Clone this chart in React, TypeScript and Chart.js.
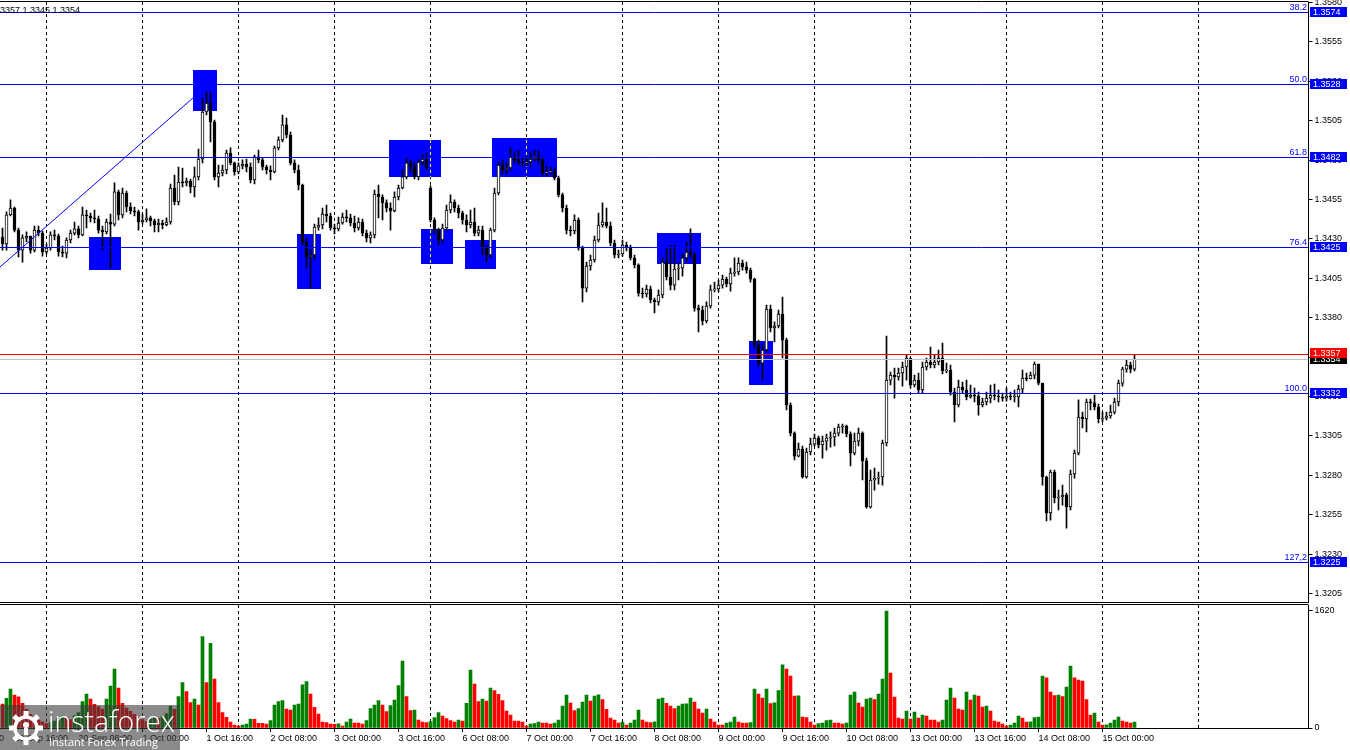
import React, { useEffect, useRef } from 'react';
import { Chart, registerables } from 'chart.js';
Chart.register(...registerables);

// ---------- DATA ----------
const TOTAL_SLOTS = 327;
const firstOpen = 1.34312;
const weekGapBar = 107;
const weekGapOpen = 1.34623;
const prevVolume = 360;

const closes = [
1.34268,1.34452,1.34496,1.34356,1.34229,1.34306,1.34318,1.34229,1.34356,1.34337,
1.34217,1.34242,1.34325,1.34318,1.34217,1.34210,1.34293,1.34337,1.34363,1.34325,
1.34452,1.34445,1.34433,1.34426,1.34356,1.34344,1.34407,1.34394,1.34598,1.34452,
1.34591,1.34502,1.34477,1.34471,1.34407,1.34420,1.34433,1.34414,1.34388,1.34401,
1.34388,1.34407,1.34623,1.34534,1.34661,1.34655,1.34667,1.34629,1.34693,1.34807,
1.35105,1.35162,1.35042,1.34693,1.34718,1.34737,1.34845,1.34782,1.34725,1.34763,
1.34775,1.34756,1.34674,1.34820,1.34801,1.34756,1.34737,1.34725,1.34877,1.34928,
1.35023,1.34959,1.34782,1.34737,1.34642,1.34280,1.34185,1.34198,1.34375,1.34388,
1.34458,1.34445,1.34369,1.34363,1.34401,1.34439,1.34433,1.34401,1.34369,1.34407,
1.34337,1.34306,1.34325,1.34585,1.34566,1.34528,1.34496,1.34477,1.34566,1.34623,
1.34693,1.34782,1.34756,1.34693,1.34788,1.34807,1.34750,1.34420,1.34356,1.34293,
1.34369,1.34483,1.34534,1.34496,1.34464,1.34420,1.34388,1.34407,1.34337,1.34356,
1.34249,1.34198,1.34356,1.34591,1.34769,1.34737,1.34750,1.34820,1.34801,1.34788,
1.34782,1.34788,1.34807,1.34826,1.34801,1.34718,1.34725,1.34725,1.34686,1.34579,
1.34496,1.34356,1.34350,1.34420,1.34242,1.33988,1.34128,1.34166,1.34293,1.34388,
1.34407,1.34382,1.34274,1.34198,1.34204,1.34261,1.34242,1.34179,1.34134,1.33956,
1.33950,1.33982,1.33912,1.33900,1.33944,1.34153,1.34058,1.34007,1.34109,1.34115,
1.34179,1.34217,1.34198,1.33861,1.33849,1.33779,1.33874,1.33976,1.33982,1.34007,
1.34045,1.34014,1.34083,1.34090,1.34147,1.34122,1.34102,1.34045,1.33627,1.33512,
1.33595,1.33855,1.33735,1.33747,1.33823,1.33658,1.33246,1.33068,1.32922,1.32967,
1.32789,1.32948,1.32998,1.33036,1.32992,1.33017,1.33036,1.33043,1.33068,1.33106,
1.33113,1.33062,1.32941,1.33017,1.33068,1.32891,1.32599,1.32770,1.32782,1.32789,
1.33005,1.33404,1.33436,1.33424,1.33449,1.33487,1.33544,1.33373,1.33404,1.33341,
1.33487,1.33519,1.33500,1.33519,1.33544,1.33462,1.33468,1.33328,1.33246,1.33360,
1.33341,1.33297,1.33309,1.33303,1.33246,1.33265,1.33290,1.33309,1.33303,1.33297,
1.33290,1.33303,1.33297,1.33297,1.33347,1.33417,1.33411,1.33436,1.33506,1.33385,
1.32789,1.32561,1.32821,1.32656,1.32662,1.32675,1.32599,1.32808,1.32941,1.33170,
1.33157,1.33265,1.33259,1.33233,1.33157,1.33163,1.33176,1.33201,1.33265,1.33385,
1.33474,1.33500,1.33474,1.33538
];

const highs = [
1.34369,1.34471,1.34547,1.34502,1.34369,1.34325,1.34344,1.34318,1.34382,1.34382,
1.34350,1.34268,1.34344,1.34356,1.34331,1.34255,1.34306,1.34356,1.34407,1.34382,
1.34502,1.34483,1.34464,1.34483,1.34445,1.34382,1.34426,1.34458,1.34655,1.34610,
1.34623,1.34604,1.34528,1.34502,1.34483,1.34458,1.34490,1.34445,1.34426,1.34426,
1.34420,1.34433,1.34648,1.34705,1.34756,1.34750,1.34686,1.34680,1.34756,1.34870,
1.35194,1.35232,1.35226,1.35054,1.34769,1.34769,1.34864,1.34877,1.34788,1.34782,
1.34801,1.34807,1.34782,1.34832,1.34864,1.34813,1.34769,1.34763,1.34889,1.34947,
1.35086,1.35067,1.34978,1.34801,1.34769,1.34648,1.34306,1.34229,1.34394,1.34433,
1.34496,1.34515,1.34464,1.34394,1.34439,1.34464,1.34483,1.34458,1.34445,1.34433,
1.34426,1.34356,1.34344,1.34610,1.34642,1.34579,1.34547,1.34528,1.34598,1.34642,
1.34737,1.34813,1.34801,1.34782,1.34801,1.34832,1.34845,1.34636,1.34433,1.34369,
1.34394,1.34515,1.34579,1.34547,1.34515,1.34477,1.34452,1.34483,1.34496,1.34382,
1.34382,1.34261,1.34369,1.34623,1.34788,1.34801,1.34782,1.34877,1.34851,1.34864,
1.34813,1.34826,1.34851,1.34864,1.34858,1.34820,1.34763,1.34756,1.34750,1.34699,
1.34591,1.34515,1.34382,1.34452,1.34433,1.34255,1.34153,1.34198,1.34318,1.34464,
1.34528,1.34496,1.34407,1.34293,1.34229,1.34293,1.34280,1.34261,1.34198,1.34141,
1.33988,1.34007,1.34001,1.33925,1.33976,1.34179,1.34242,1.34261,1.34261,1.34147,
1.34204,1.34280,1.34363,1.34217,1.33880,1.33874,1.33900,1.34007,1.34026,1.34039,
1.34071,1.34058,1.34115,1.34179,1.34179,1.34166,1.34153,1.34115,1.34052,1.33658,
1.33627,1.33880,1.33880,1.33773,1.33849,1.33931,1.33671,1.33259,1.33075,1.33005,
1.32986,1.32973,1.33036,1.33062,1.33049,1.33049,1.33062,1.33075,1.33100,1.33125,
1.33125,1.33119,1.33075,1.33068,1.33100,1.33075,1.32909,1.32833,1.32846,1.32821,
1.33024,1.33684,1.33455,1.33481,1.33481,1.33519,1.33563,1.33544,1.33436,1.33449,
1.33519,1.33544,1.33614,1.33563,1.33595,1.33639,1.33512,1.33500,1.33354,1.33404,
1.33392,1.33404,1.33373,1.33354,1.33328,1.33290,1.33328,1.33373,1.33379,1.33341,
1.33322,1.33354,1.33328,1.33341,1.33373,1.33468,1.33449,1.33455,1.33519,1.33506,
1.33385,1.32795,1.32833,1.32833,1.32706,1.32738,1.32687,1.32833,1.32960,1.33278,
1.33201,1.33284,1.33284,1.33309,1.33252,1.33201,1.33201,1.33246,1.33290,1.33404,
1.33487,1.33531,1.33519,1.33563
];

const lows = [
1.34229,1.34229,1.34445,1.34344,1.34185,1.34153,1.34280,1.34210,1.34217,1.34318,
1.34191,1.34204,1.34229,1.34293,1.34191,1.34185,1.34179,1.34274,1.34325,1.34306,
1.34318,1.34369,1.34407,1.34401,1.34337,1.34229,1.34331,1.34115,1.34382,1.34420,
1.34433,1.34471,1.34458,1.34445,1.34356,1.34394,1.34407,1.34382,1.34344,1.34344,
1.34363,1.34382,1.34394,1.34515,1.34515,1.34629,1.34636,1.34591,1.34566,1.34674,
1.34782,1.35086,1.34915,1.34674,1.34629,1.34699,1.34712,1.34769,1.34705,1.34712,
1.34744,1.34725,1.34655,1.34648,1.34782,1.34737,1.34712,1.34674,1.34718,1.34864,
1.34915,1.34940,1.34769,1.34718,1.34610,1.34261,1.34115,1.33988,1.34172,1.34356,
1.34363,1.34407,1.34356,1.34331,1.34350,1.34394,1.34407,1.34382,1.34344,1.34356,
1.34318,1.34280,1.34274,1.34306,1.34433,1.34420,1.34471,1.34356,1.34471,1.34547,
1.34617,1.34680,1.34725,1.34680,1.34674,1.34769,1.34737,1.34407,1.34337,1.34261,
1.34274,1.34356,1.34464,1.34471,1.34433,1.34394,1.34344,1.34369,1.34318,1.34318,
1.34198,1.34153,1.34179,1.34344,1.34579,1.34712,1.34712,1.34731,1.34782,1.34769,
1.34763,1.34763,1.34756,1.34794,1.34782,1.34705,1.34699,1.34712,1.34674,1.34566,
1.34471,1.34331,1.34318,1.34331,1.34229,1.33900,1.33963,1.34102,1.34153,1.34280,
1.34375,1.34369,1.34255,1.34179,1.34179,1.34191,1.34223,1.34166,1.34115,1.33937,
1.33925,1.33931,1.33893,1.33830,1.33880,1.33925,1.34039,1.33976,1.33976,1.34039,
1.34064,1.34153,1.34179,1.33842,1.33709,1.33754,1.33766,1.33861,1.33963,1.33963,
1.33988,1.33995,1.33969,1.34064,1.34071,1.34102,1.34083,1.34026,1.33608,1.33493,
1.33404,1.33582,1.33709,1.33646,1.33735,1.33544,1.33214,1.33049,1.32897,1.32916,
1.32782,1.32782,1.32929,1.32986,1.32973,1.32909,1.32960,1.32979,1.32986,1.33049,
1.33068,1.33043,1.32859,1.32929,1.32986,1.32770,1.32592,1.32592,1.32706,1.32744,
1.32738,1.32986,1.33373,1.33290,1.33404,1.33366,1.33404,1.33354,1.33360,1.33322,
1.33322,1.33468,1.33481,1.33481,1.33500,1.33443,1.33449,1.33309,1.33138,1.33233,
1.33322,1.33278,1.33290,1.33265,1.33182,1.33233,1.33246,1.33259,1.33278,1.33265,
1.33271,1.33271,1.33278,1.33265,1.33233,1.33322,1.33398,1.33411,1.33411,1.33373,
1.32738,1.32510,1.32516,1.32624,1.32580,1.32611,1.32465,1.32580,1.32782,1.32929,
1.33100,1.33075,1.33214,1.33214,1.33132,1.33138,1.33151,1.33163,1.33189,1.33240,
1.33366,1.33455,1.33449,1.33462
];

const volumes = [
330,410,540,457,430,340,260,190,150,110,
85,60,75,95,130,165,140,115,170,215,
365,471,402,328,295,263,402,582,817,554,
342,277,230,190,150,115,90,120,150,135,
160,200,300,260,434,628,503,351,402,319,
1265,628,1173,679,351,212,148,83,42,25,
42,55,125,120,65,63,55,102,319,365,
379,263,249,319,332,596,642,471,286,194,
83,74,55,50,58,28,83,125,69,67,
55,102,268,319,379,318,226,309,388,586,
928,434,240,249,111,83,74,88,143,212,
166,129,102,83,111,97,342,803,609,365,
402,374,554,517,466,379,235,180,97,95,
83,28,55,60,83,69,67,55,69,111,
305,457,346,240,268,360,457,374,443,460,
392,259,138,111,69,83,42,69,111,249,
111,83,74,85,402,415,342,305,268,305,
332,333,415,360,263,208,263,125,83,42,
40,69,83,152,83,69,67,75,540,471,
415,540,337,350,517,873,817,720,443,445,
152,143,83,42,60,69,102,111,69,67,
55,69,457,499,346,291,402,415,392,471,
679,1620,762,429,138,125,235,125,222,138,
180,166,111,108,83,111,388,554,415,263,
249,499,388,457,443,291,305,235,97,83,
55,28,42,69,166,138,83,85,143,152,
720,693,499,448,457,434,568,859,693,665,
651,392,180,208,83,42,45,69,111,152,
97,83,69,83
];

const priceTicks = [1.3205,1.3230,1.3255,1.3280,1.3305,1.3330,1.3355,1.3380,1.3405,1.3430,1.3455,1.3480,1.3505,1.3530,1.3555,1.3580];
const PRICE_MIN = 1.31996;
const PRICE_MAX = 1.35803;
const VOL_MAX = 1703;
const volumeTicks = [0, 1620];

const xTickBars = [-13,3,19,35,51,67,83,99,115,131,147,163,179,195,211,227,243,259,275];
const xTickLabels = ['29 Sep 00:00','29 Sep 16:00','30 Sep 08:00','1 Oct 00:00','1 Oct 16:00','2 Oct 08:00','3 Oct 00:00','3 Oct 16:00','6 Oct 08:00','7 Oct 00:00','7 Oct 16:00','8 Oct 08:00','9 Oct 00:00','9 Oct 16:00','10 Oct 08:00','13 Oct 00:00','13 Oct 16:00','14 Oct 08:00','15 Oct 00:00'];
const dayStartBars = [11,35,59,83,107,131,155,179,203,227,251,275,299];

const fibLevels = [1.3574,1.3528,1.3482,1.3425,1.3332,1.3225];
const fibNames = ['38.2','50.0','61.8','76.4','100.0','127,2'];
const askPrice = 1.3357;
const bidPrice = 1.3354;

const boxStart = [22,48,74,97,105,116,123,164,187];
const boxEnd = [29,53,79,109,112,123,138,174,192];
const boxHigh = [1.3431,1.3537,1.3433,1.3493,1.3436,1.3429,1.3494,1.3434,1.3365];
const boxLow = [1.3410,1.3511,1.3398,1.3469,1.3414,1.3411,1.3469,1.3414,1.3337];

const trendBars = [-10, 49];
const trendPrices = [1.33913, 1.35225];

const headerText = '1.3357 1.3345 1.3354';

// ---------- STYLE ----------
const FONT = '"Liberation Sans", Arial, sans-serif';
const FONT_SIZE = 9;
const BLUE = '#0000FF';
const AXIS_W = 41.5;

// ---------- derived tables ----------
const slotLabels = Array.from({ length: TOTAL_SLOTS }, (_, i) => String(i));
const opens = closes.map((c, i) => (i === 0 ? firstOpen : i === weekGapBar ? weekGapOpen : closes[i - 1]));
const bodyData = closes.map((c, i) => [opens[i], c]);
const wickData = closes.map((c, i) => [Math.min(lows[i], opens[i], c), Math.max(highs[i], opens[i], c)]);
const bodyColors = closes.map((c, i) => (c >= opens[i] ? '#FFFFFF' : '#000000'));
const volColors = volumes.map((v, i) => (v > (i === 0 ? prevVolume : volumes[i - 1]) ? '#008000' : '#FF0000'));
const xLabelMap: Record<string, string> = {};
xTickBars.forEach((b, k) => { xLabelMap[String(b)] = xTickLabels[k]; });

const whiteBg = {
  id: 'whiteBg',
  beforeDraw(chart: any) {
    const { ctx, width, height } = chart;
    ctx.save();
    ctx.fillStyle = '#FFFFFF';
    ctx.fillRect(0, 0, width, height);
    ctx.restore();
  },
};

function drawDayGrid(chart: any) {
  const { ctx, chartArea, scales } = chart;
  const xs = scales.x;
  ctx.save();
  ctx.beginPath();
  ctx.rect(chartArea.left, chartArea.top, chartArea.right - chartArea.left, chartArea.bottom - chartArea.top);
  ctx.clip();
  ctx.globalCompositeOperation = 'difference';
  ctx.strokeStyle = '#FFFFFF';
  ctx.lineWidth = 1;
  ctx.setLineDash([3, 3]);
  for (const b of dayStartBars) {
    const x = Math.floor(xs.getPixelForValue(b)) + 0.5;
    ctx.beginPath();
    ctx.moveTo(x, chartArea.top);
    ctx.lineTo(x, chartArea.bottom);
    ctx.stroke();
  }
  ctx.restore();
}

function valueBox(ctx: any, y: number, text: string, bg: string) {
  const yc = Math.round(y);
  ctx.fillStyle = bg;
  ctx.fillRect(1310, yc - 5, 37, 10);
  ctx.fillStyle = '#FFFFFF';
  ctx.font = `${FONT_SIZE}px ${FONT}`;
  ctx.textAlign = 'left';
  ctx.textBaseline = 'middle';
  ctx.fillText(text, 1313, yc + 0.5);
}

const pricePlugin = {
  id: 'pricePlugin',
  beforeDatasetsDraw(chart: any) {
    const { ctx, scales } = chart;
    const xs = scales.x, ys = scales.y;
    ctx.save();
    ctx.fillStyle = BLUE;
    for (let k = 0; k < boxStart.length; k++) {
      const x0 = Math.round(xs.getPixelForValue(boxStart[k]) - 2);
      const x1 = Math.round(xs.getPixelForValue(boxEnd[k]) + 2);
      const y0 = Math.round(ys.getPixelForValue(boxHigh[k]));
      const y1 = Math.round(ys.getPixelForValue(boxLow[k]));
      ctx.fillRect(x0, y0, x1 - x0, y1 - y0);
    }
    ctx.restore();
    drawDayGrid(chart);
  },
  afterDatasetsDraw(chart: any) {
    const { ctx, chartArea, scales } = chart;
    const xs = scales.x, ys = scales.y;
    ctx.save();
    ctx.beginPath();
    ctx.rect(chartArea.left - 1, chartArea.top, chartArea.right - chartArea.left + 1, chartArea.bottom - chartArea.top);
    ctx.clip();
    ctx.lineWidth = 1;
    // trend line
    ctx.strokeStyle = BLUE;
    ctx.beginPath();
    ctx.moveTo(xs.getPixelForValue(trendBars[0]), ys.getPixelForValue(trendPrices[0]));
    ctx.lineTo(xs.getPixelForValue(trendBars[1]), ys.getPixelForValue(trendPrices[1]));
    ctx.stroke();
    // fib levels
    fibLevels.forEach((lv) => {
      const y = Math.round(ys.getPixelForValue(lv)) + 0.5;
      ctx.beginPath();
      ctx.moveTo(0, y);
      ctx.lineTo(chartArea.right, y);
      ctx.stroke();
    });
    // bid / ask
    const yb = Math.round(ys.getPixelForValue(bidPrice)) + 0.5;
    ctx.strokeStyle = '#C0C0C0';
    ctx.beginPath(); ctx.moveTo(0, yb); ctx.lineTo(chartArea.right, yb); ctx.stroke();
    const ya = Math.round(ys.getPixelForValue(askPrice)) + 0.5;
    ctx.strokeStyle = '#FF0000';
    ctx.beginPath(); ctx.moveTo(0, ya); ctx.lineTo(chartArea.right, ya); ctx.stroke();
    // fib names
    ctx.fillStyle = BLUE;
    ctx.font = `${FONT_SIZE}px ${FONT}`;
    ctx.textAlign = 'right';
    ctx.textBaseline = 'alphabetic';
    fibLevels.forEach((lv, k) => {
      const y = Math.round(ys.getPixelForValue(lv));
      ctx.fillText(fibNames[k], 1307, y - 2);
    });
    ctx.restore();
  },
  afterDraw(chart: any) {
    const { ctx, chartArea, scales } = chart;
    const ys = scales.y;
    ctx.save();
    // frame lines
    ctx.strokeStyle = '#000000';
    ctx.lineWidth = 1;
    ctx.beginPath();
    ctx.moveTo(0, 1.5); ctx.lineTo(chartArea.right, 1.5);
    ctx.moveTo(0, Math.round(chartArea.bottom) + 0.5); ctx.lineTo(chartArea.right, Math.round(chartArea.bottom) + 0.5);
    ctx.stroke();
    // header text
    ctx.fillStyle = '#000000';
    ctx.font = `${FONT_SIZE}px ${FONT}`;
    ctx.textAlign = 'left';
    ctx.textBaseline = 'alphabetic';
    ctx.fillText(headerText, -ctx.measureText('1.').width, 13);
    // value boxes on the axis
    fibLevels.forEach((lv) => valueBox(ctx, ys.getPixelForValue(lv), lv.toFixed(4), BLUE));
    valueBox(ctx, ys.getPixelForValue(bidPrice), bidPrice.toFixed(4), '#000000');
    valueBox(ctx, ys.getPixelForValue(askPrice) - 1, askPrice.toFixed(4), '#FF0000');
    ctx.restore();
  },
};

const volumePlugin = {
  id: 'volumePlugin',
  beforeDatasetsDraw(chart: any) {
    drawDayGrid(chart);
  },
  afterDraw(chart: any) {
    const { ctx, chartArea } = chart;
    ctx.save();
    ctx.strokeStyle = '#000000';
    ctx.lineWidth = 1;
    ctx.beginPath();
    ctx.moveTo(0, 0.5); ctx.lineTo(chartArea.right, 0.5);
    ctx.stroke();
    // watermark
    const top = 101;
    ctx.fillStyle = 'rgba(60,60,60,0.6)';
    ctx.fillRect(0, top, 180, 46);
    ctx.fillStyle = '#FFFFFF';
    ctx.strokeStyle = '#FFFFFF';
    const cx = 26, cy = top + 23;
    ctx.lineWidth = 3.5;
    ctx.beginPath(); ctx.arc(cx, cy, 11, 0, Math.PI * 2); ctx.stroke();
    for (let k = 0; k < 8; k++) {
      const a = (k * Math.PI) / 4;
      ctx.save();
      ctx.translate(cx + Math.cos(a) * 14, cy + Math.sin(a) * 14);
      ctx.rotate(a);
      ctx.fillRect(-3, -2.5, 6, 5);
      ctx.restore();
    }
    ctx.beginPath(); ctx.arc(cx, cy - 3, 3, 0, Math.PI * 2); ctx.fill();
    ctx.fillRect(cx - 2, cy, 4, 7);
    ctx.font = `300 30px "Open Sans", ${FONT}`;
    const w = ctx.measureText('instaforex').width;
    ctx.save();
    ctx.translate(48, top + 27);
    ctx.scale(127 / w, 1);
    ctx.textAlign = 'left';
    ctx.textBaseline = 'alphabetic';
    ctx.fillText('instaforex', 0, 0);
    ctx.restore();
    ctx.font = `11px "Open Sans", ${FONT}`;
    ctx.textAlign = 'left';
    ctx.fillText('Instant Forex Trading', 49, top + 41);
    ctx.restore();
  },
};

const tickFont = { family: FONT, size: FONT_SIZE };

function priceConfig(): any {
  return {
    type: 'bar',
    data: {
      labels: slotLabels,
      datasets: [
        { label: 'body', data: bodyData, backgroundColor: bodyColors, borderColor: '#000000', borderWidth: 1, borderSkipped: false, barThickness: 3, minBarLength: 1, grouped: false },
        { label: 'wick', data: wickData, backgroundColor: '#000000', borderWidth: 0, barThickness: 1, grouped: false },
      ],
    },
    options: {
      animation: false,
      responsive: false,
      devicePixelRatio: 1,
      events: [],
      layout: { padding: { left: 0.5, top: 2, right: 0, bottom: 2 } },
      plugins: { legend: { display: false }, tooltip: { enabled: false } },
      scales: {
        x: { type: 'category', display: false, offset: true, grid: { display: false } },
        y: {
          position: 'right',
          min: PRICE_MIN,
          max: PRICE_MAX,
          afterBuildTicks: (s: any) => { s.ticks = priceTicks.map((v) => ({ value: v })); },
          afterFit: (s: any) => { s.width = AXIS_W; s.paddingTop = 0; s.paddingBottom = 0; },
          ticks: { autoSkip: false, padding: 2, color: '#000000', font: tickFont, callback: (v: any) => Number(v).toFixed(4) },
          grid: { drawOnChartArea: false, drawTicks: true, tickLength: 4, color: '#000000' },
          border: { display: true, color: '#000000' },
        },
      },
    },
    plugins: [whiteBg, pricePlugin],
  };
}

function volumeConfig(): any {
  return {
    type: 'bar',
    data: {
      labels: slotLabels,
      datasets: [{ label: 'volume', data: volumes, backgroundColor: volColors, borderWidth: 0, barThickness: 3 }],
    },
    options: {
      animation: false,
      responsive: false,
      devicePixelRatio: 1,
      events: [],
      layout: { padding: { left: 0.5, top: 1, right: 0, bottom: 0 } },
      plugins: { legend: { display: false }, tooltip: { enabled: false } },
      scales: {
        x: {
          type: 'category',
          offset: true,
          afterBuildTicks: (s: any) => { s.ticks = xTickBars.map((v) => ({ value: v })); },
          afterFit: (s: any) => { s.height = 22; s.paddingLeft = 0; s.paddingRight = 0; },
          ticks: { autoSkip: false, maxRotation: 0, minRotation: 0, align: 'start', padding: 1, color: '#000000', font: tickFont, callback: (v: any) => xLabelMap[String(v)] || '' },
          grid: { drawOnChartArea: false, drawTicks: true, tickLength: 4, color: '#000000', offset: false },
          border: { display: true, color: '#000000' },
        },
        y: {
          position: 'right',
          min: 0,
          max: VOL_MAX,
          afterBuildTicks: (s: any) => { s.ticks = volumeTicks.map((v) => ({ value: v })); },
          afterFit: (s: any) => { s.width = AXIS_W; s.paddingTop = 0; s.paddingBottom = 0; },
          ticks: { autoSkip: false, padding: 2, color: '#000000', font: tickFont, callback: (v: any) => String(v) },
          grid: { drawOnChartArea: false, drawTicks: true, tickLength: 4, color: '#000000' },
          border: { display: true, color: '#000000' },
        },
      },
    },
    plugins: [whiteBg, volumePlugin],
  };
}

export default function App() {
  const priceRef = useRef<HTMLCanvasElement>(null);
  const volRef = useRef<HTMLCanvasElement>(null);
  useEffect(() => {
    const pc = new Chart(priceRef.current as HTMLCanvasElement, priceConfig());
    const vc = new Chart(volRef.current as HTMLCanvasElement, volumeConfig());
    return () => { pc.destroy(); vc.destroy(); };
  }, []);
  return (
    <div style={{ position: 'absolute', left: 0, top: 0, width: 1350, height: 750, background: '#FFFFFF', overflow: 'hidden' }}>
      <canvas ref={priceRef} width={1350} height={604} style={{ position: 'absolute', left: 0, top: 0, width: 1350, height: 604, display: 'block' }} />
      <canvas ref={volRef} width={1350} height={146} style={{ position: 'absolute', left: 0, top: 604, width: 1350, height: 146, display: 'block' }} />
    </div>
  );
}
